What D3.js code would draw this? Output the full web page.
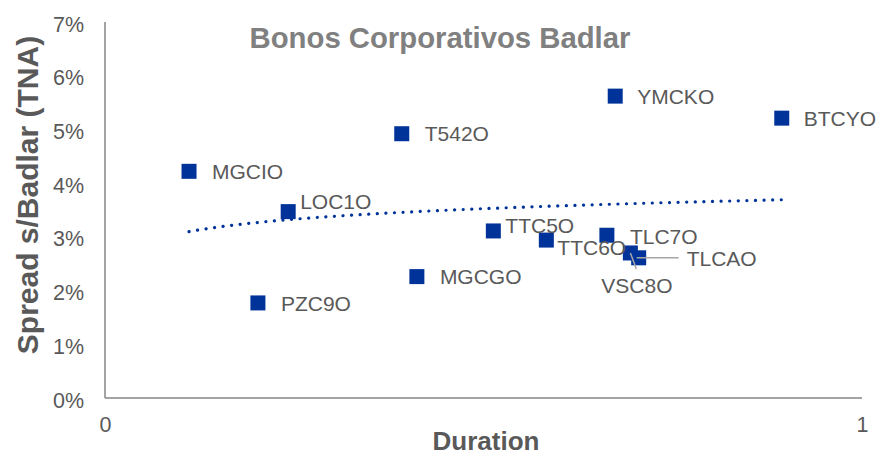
<!DOCTYPE html>
<html>
<head>
<meta charset="utf-8">
<script src="https://cdn.jsdelivr.net/npm/d3@7"></script>
<style>
  html, body { margin: 0; padding: 0; background: #fff; }
  svg { display: block; font-family: "Liberation Sans", Arial, sans-serif; }
</style>
</head>
<body>
<svg id="chart" width="879" height="456"></svg>
<script>
// ---- data ----
const bonds     = ["MGCIO", "PZC9O", "LOC1O", "T542O", "MGCGO", "TTC5O", "TTC6O", "YMCKO", "TLC7O", "VSC8O", "TLCAO", "BTCYO"];
const duration  = [0.111, 0.202, 0.242, 0.392, 0.412, 0.513, 0.583, 0.674, 0.663, 0.694, 0.705, 0.894];
const spread    = [0.0422, 0.0177, 0.0347, 0.0492, 0.0226, 0.0311, 0.0294, 0.0562, 0.0303, 0.0270, 0.0261, 0.0521];
const xTicks    = [0, 1];
const yTicks    = [0, 0.01, 0.02, 0.03, 0.04, 0.05, 0.06, 0.07];
const title     = "Bonos Corporativos Badlar";
const xTitle    = "Duration";
const yTitle    = "Spread s/Badlar (TNA)";

// ---- layout (label placement relative to the point) ----
const labelOffset = {
  MGCIO: [23, 0], PZC9O: [23, 1], LOC1O: [12, -10], T542O: [23, 0], MGCGO: [23, 0],
  TTC5O: [12, -5], TTC6O: [11, 8], YMCKO: [22, 1], TLC7O: [23, 1], VSC8O: [-29, 33],
  TLCAO: [48, 1], BTCYO: [22, 1]
};
const leaders = { VSC8O: [[0, 0], [6, 16]], TLCAO: [[-2, 0], [40, 0]] };

const svg = d3.select("#chart");
const x = d3.scaleLinear().domain([0, 1]).range([105, 862]);
const y = d3.scaleLinear().domain([0, 0.07]).range([398, 22]);

const gray = "#595959";
const axisColor = "#868686";

// axes
const xAxis = d3.axisBottom(x).tickValues(xTicks).tickFormat(d3.format("d")).tickSize(0).tickPadding(19);
const yAxis = d3.axisLeft(y).tickValues(yTicks).tickFormat(d3.format(".0%")).tickSize(0).tickPadding(21);

const gx = svg.append("g").attr("transform", `translate(0,${y(0)})`).call(xAxis);
const gy = svg.append("g").attr("transform", `translate(${x(0)},0)`).call(yAxis);
[gx, gy].forEach(g => {
  g.select(".domain").attr("stroke", axisColor).attr("stroke-width", 1.5);
  g.selectAll("text").attr("fill", gray).style("font-size", "21.5px").style("font-family", "'Liberation Sans', Arial, sans-serif");
});
gy.selectAll(".tick text").attr("dy", "0.42em");
gx.select(".domain").attr("d", `M${x(0)},0H${x(1)}`);
gy.select(".domain").attr("d", `M0,${y(0.07)}V${y(0)}`);

// logarithmic trendline (least squares on ln(duration))
const lx = duration.map(Math.log);
const mx = d3.mean(lx), my = d3.mean(spread);
const b = d3.sum(lx.map((v, i) => (v - mx) * (spread[i] - my))) / d3.sum(lx.map(v => (v - mx) ** 2));
const a = my - b * mx;
const [x0, x1] = d3.extent(duration);
const trend = d3.range(0, 101).map(i => {
  const xv = x0 + (x1 - x0) * i / 100;
  return [xv, a + b * Math.log(xv)];
});
svg.append("path")
  .attr("d", d3.line().x(d => x(d[0])).y(d => y(d[1]))(trend))
  .attr("fill", "none")
  .attr("stroke", "#003399")
  .attr("stroke-width", 3.2)
  .attr("stroke-linecap", "round")
  .attr("stroke-dasharray", "0.1 8.5");

// points
const pts = bonds.map((n, i) => ({ name: n, d: duration[i], s: spread[i] }));
const size = 15;
svg.append("g").selectAll("rect").data(pts).join("rect")
  .attr("x", d => x(d.d) - size / 2)
  .attr("y", d => y(d.s) - size / 2)
  .attr("width", size).attr("height", size)
  .attr("fill", "#003399");

// leader lines
svg.append("g").selectAll("line").data(pts.filter(p => leaders[p.name])).join("line")
  .attr("x1", d => x(d.d) + leaders[d.name][0][0])
  .attr("y1", d => y(d.s) + leaders[d.name][0][1])
  .attr("x2", d => x(d.d) + leaders[d.name][1][0])
  .attr("y2", d => y(d.s) + leaders[d.name][1][1])
  .attr("stroke", "#a6a6a6").attr("stroke-width", 1.5);

// labels
svg.append("g").selectAll("text").data(pts).join("text")
  .attr("x", d => x(d.d) + labelOffset[d.name][0])
  .attr("y", d => y(d.s) + labelOffset[d.name][1])
  .attr("dy", "0.35em")
  .attr("fill", gray)
  .style("font-size", "21px")
  .text(d => d.name);

// titles
svg.append("text").attr("x", 440).attr("y", 48)
  .attr("text-anchor", "middle").attr("fill", "#808080")
  .style("font-size", "29.3px").style("font-weight", "bold").text(title);

svg.append("text").attr("x", 486).attr("y", 450)
  .attr("text-anchor", "middle").attr("fill", gray)
  .style("font-size", "26px").style("font-weight", "bold").text(xTitle);

svg.append("text").attr("transform", "translate(38,195) rotate(-90)")
  .attr("text-anchor", "middle").attr("fill", gray)
  .style("font-size", "30px").style("font-weight", "bold").text(yTitle);
</script>
</body>
</html>
